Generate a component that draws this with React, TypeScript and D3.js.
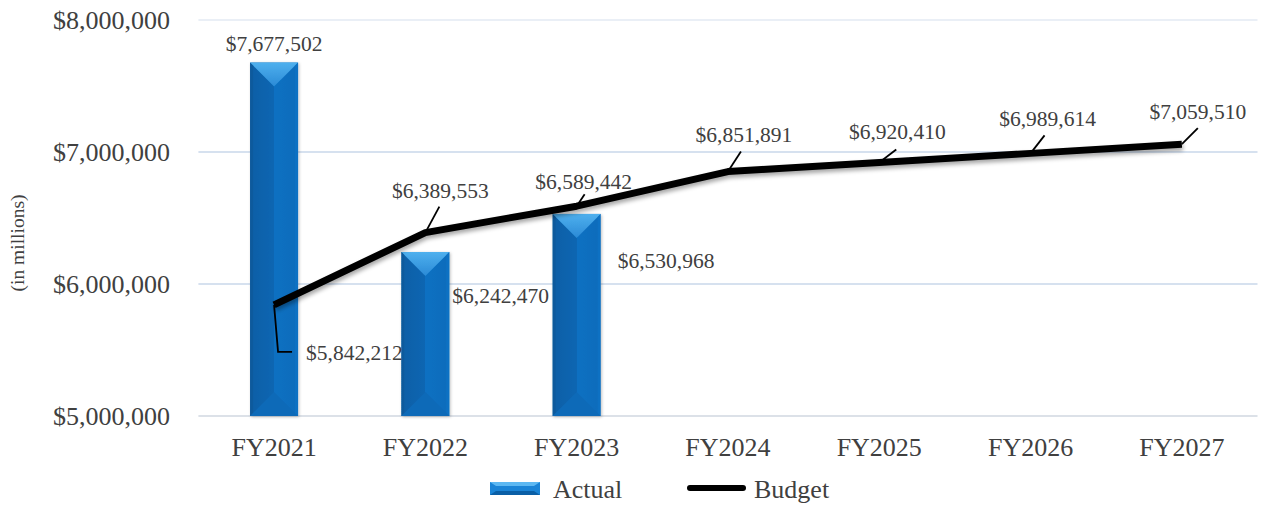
import React from "react";
import * as d3 from "d3";

const categories = ["FY2021", "FY2022", "FY2023", "FY2024", "FY2025", "FY2026", "FY2027"];
const actualValues: (number | null)[] = [7677502, 6242470, 6530968, null, null, null, null];
const budgetValues = [5842212, 6389553, 6589442, 6851891, 6920410, 6989614, 7059510];
const yTicks = [5000000, 6000000, 7000000, 8000000];

const W = 1264, H = 506;
const left = 198.4, right = 1257.5, top = 20, bottom = 416;

const fmt = (v: number) => "$" + d3.format(",")(v);

// budget label: text center offset from point (dx, dy), leader end offset (lx, ly)
const budgetLabelOff = [
  { dx: 86, dy: 48, lx: 4, ly: 47 },
  { dx: 15, dy: -42, lx: 14, ly: -26 },
  { dx: 7, dy: -25, lx: 8, ly: -12 },
  { dx: 16, dy: -37, lx: 13, ly: -20 },
  { dx: 18, dy: -31, lx: 17, ly: -13 },
  { dx: 17, dy: -35, lx: 14, ly: -18 },
  { dx: 16, dy: -33, lx: 16, ly: -16 },
];
const actualLabelOff = [
  { dx: 0, dy: -19, anchor: "middle" },
  { dx: 27, dy: 0, anchor: "start" },
  { dx: 41, dy: 0, anchor: "start" },
];
const actualLabelY = [null, 295, 260];

export default function App() {
  const x = d3.scaleBand<string>().domain(categories).range([left, right]).paddingInner(0).paddingOuter(0);
  const y = d3.scaleLinear().domain([5000000, 8000000]).range([bottom, top]);
  const bw = 48;
  const cxOf = (i: number) => x(categories[i])! + x.bandwidth() / 2;
  const line = d3.line<number>().x((_, i) => cxOf(i)).y((d) => y(d));
  const font = "'Liberation Serif', 'Times New Roman', serif";
  const textColor = "#404040";

  return (
    <svg width={W} height={H} style={{ position: "absolute", left: 0, top: 0 }} fontFamily={font}>
      <defs>
        <linearGradient id="barBody" x1="0" x2="1" y1="0" y2="0">
          <stop offset="0" stopColor="#0a5fa6" />
          <stop offset="0.5" stopColor="#0b66b2" />
          <stop offset="0.5" stopColor="#0b70c2" />
          <stop offset="1" stopColor="#0a6cbb" />
        </linearGradient>
        <linearGradient id="barTop" x1="0" x2="0" y1="0" y2="1">
          <stop offset="0" stopColor="#4fb0ee" />
          <stop offset="1" stopColor="#2a8ad6" />
        </linearGradient>
        <filter id="shadow" x="-10%" y="-10%" width="130%" height="140%">
          <feDropShadow dx="1" dy="3" stdDeviation="2" floodColor="#000" floodOpacity="0.35" />
        </filter>
        <filter id="barShadow" x="-20%" y="-5%" width="140%" height="110%">
          <feDropShadow dx="1" dy="1" stdDeviation="1.5" floodColor="#000" floodOpacity="0.25" />
        </filter>
      </defs>
      <rect width={W} height={H} fill="#fff" />
      {yTicks.map((t) => (
        <g key={t}>
          {t > 5000000 && (
            <line x1={left} x2={right} y1={y(t)} y2={y(t)} stroke={t === 8000000 ? "#e3eaf3" : "#c9d7ea"} strokeWidth={1.3} />
          )}
          <text x={170} y={y(t)} dy="0.35em" textAnchor="end" fontSize={26} fill={textColor}>
            {fmt(t)}
          </text>
        </g>
      ))}
      <line x1={left} x2={right} y1={bottom} y2={bottom} stroke="#d0d7e0" strokeWidth={1.3} />
      <text transform={`translate(17,243) rotate(-90)`} dy="0.35em" textAnchor="middle" fontSize={19.5} fill={textColor}>
        (in millions)
      </text>
      {categories.map((c, i) => (
        <text key={c} x={cxOf(i)} y={447} dy="0.35em" textAnchor="middle" fontSize={26} fill={textColor}>
          {c}
        </text>
      ))}
      {actualValues.map((v, i) => {
        if (v == null) return null;
        const cx = cxOf(i);
        const x0 = cx - bw / 2, x1 = cx + bw / 2;
        const yt = y(v), yb = y(5000000);
        const d = bw / 2;
        return (
          <g key={i} filter="url(#barShadow)">
            <rect x={x0} y={yt} width={bw} height={yb - yt} fill="url(#barBody)" />
            <polygon points={`${x0},${yt} ${x1},${yt} ${cx},${yt + d}`} fill="url(#barTop)" />
            <polygon points={`${x0},${yt} ${x0 + 3},${yt + 3} ${x0 + 3},${yb - 3} ${x0},${yb}`} fill="#0a5696" opacity={0.6} />
            <polygon points={`${x0},${yb} ${x1},${yb} ${cx},${yb - d}`} fill="#0b6ab8" />
            <polygon points={`${x1},${yt} ${x1 - 3},${yt + 3} ${x1 - 3},${yb - 3} ${x1},${yb}`} fill="#0b74c8" opacity={0.6} />
          </g>
        );
      })}
      {/* budget line */}
      <path d={line(budgetValues)!} fill="none" stroke="#000" strokeWidth={7} strokeLinejoin="round" filter="url(#shadow)" />
      {/* actual labels */}
      {actualValues.map((v, i) => {
        if (v == null) return null;
        const cx = cxOf(i);
        const o = actualLabelOff[i];
        const ty = actualLabelY[i] ?? y(v) + o.dy;
        return (
          <text key={i} x={cx + o.dx} y={ty} dy="0.35em" textAnchor={o.anchor as any} fontSize={21.5} fill={textColor}>
            {fmt(v)}
          </text>
        );
      })}
      {/* budget labels */}
      {budgetValues.map((v, i) => {
        const px = cxOf(i);
        const py = y(v);
        const o = budgetLabelOff[i];
        const leader =
          i === 0
            ? `M${px},${py} L${px + o.lx},${py + o.ly} L${px + 18},${py + o.ly}`
            : `M${px},${py} L${px + o.lx},${py + o.ly}`;
        return (
          <g key={i}>
            <path d={leader} fill="none" stroke="#000" strokeWidth={1.8} />
            <text
              x={i === 0 ? px + 32 : px + o.dx}
              y={py + o.dy}
              dy="0.35em"
              textAnchor={i === 0 ? "start" : "middle"}
              fontSize={21.5}
              fill={textColor}
            >
              {fmt(v)}
            </text>
          </g>
        );
      })}
      {/* legend */}
      <g>
        <rect x={490} y={482} width={50} height={13} fill="#1a84d6" />
        <polygon points="490,482 540,482 534,486 496,486" fill="#5cb8f2" />
        <polygon points="490,495 540,495 534,491 496,491" fill="#0a5fa6" />
        <text x={553} y={489} dy="0.35em" fontSize={26} fill={textColor}>Actual</text>
        <line x1={690} x2={743} y1={488} y2={488} stroke="#000" strokeWidth={6} strokeLinecap="round" />
        <text x={754} y={489} dy="0.35em" fontSize={26} fill={textColor}>Budget</text>
      </g>
    </svg>
  );
}
